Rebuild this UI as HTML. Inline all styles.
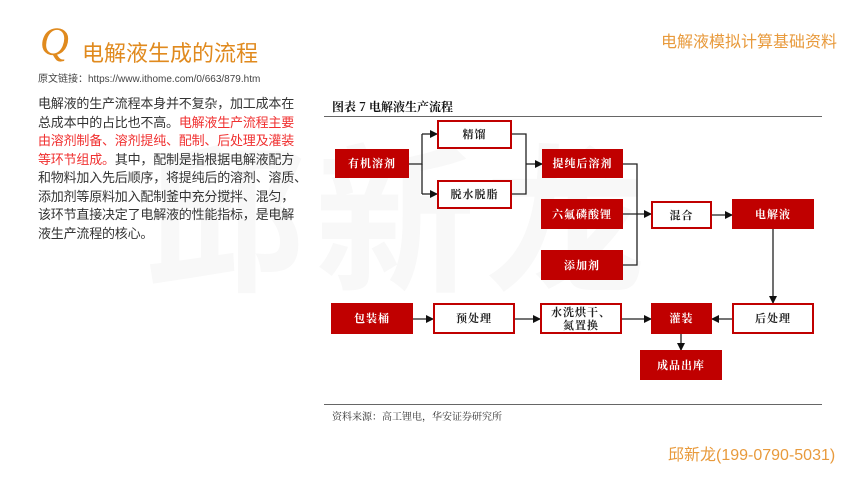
<!DOCTYPE html>
<html><head><meta charset="utf-8"><style>
body{margin:0;width:860px;height:484px;background:#fff;position:relative;overflow:hidden;font-family:"Liberation Sans","Noto Sans CJK SC",sans-serif}
.a{position:absolute}
.b{position:absolute;box-sizing:border-box;display:flex;align-items:center;justify-content:center;font-family:"Noto Serif CJK SC",serif;font-size:11px;font-weight:bold;letter-spacing:1px;line-height:13px;text-align:center}
.r{background:#c00000;color:#fff}
.w{background:#fff;border:2px solid #c00000;color:#222}
</style></head><body>
<div class="a" style="left:145px;top:120px;font-size:160px;color:#f8f8f8;font-weight:bold;letter-spacing:10px;line-height:180px;font-family:'Noto Sans CJK SC',sans-serif">邱新龙</div>
<div class="a" style="left:40px;top:18px;font-family:'Liberation Serif',serif;font-style:italic;font-size:40px;color:#e08a1e">Q</div>
<div class="a" style="left:82px;top:36px;font-size:22px;color:#e08a1e">电解液生成的流程</div>
<div class="a" style="left:38px;top:70px;font-size:10px;color:#444">原文链接：https://www.ithome.com/0/663/879.htm</div>
<div class="a" style="left:661px;top:28px;font-size:16px;color:#e89a3c;white-space:nowrap">电解液模拟计算基础资料</div>
<div class="a" style="left:38px;top:95px;font-size:13px;line-height:18.5px;color:#333;white-space:nowrap;letter-spacing:-0.2px">电解液的生产流程本身并不复杂，加工成本在<br>总成本中的占比也不高。<span style="color:#f03030">电解液生产流程主要<br>由溶剂制备、溶剂提纯、配制、后处理及灌装<br>等环节组成。</span>其中，配制是指根据电解液配方<br>和物料加入先后顺序，将提纯后的溶剂、溶质、<br>添加剂等原料加入配制釜中充分搅拌、混匀，<br>该环节直接决定了电解液的性能指标，是电解<br>液生产流程的核心。</div>
<div class="a" style="left:332px;top:98px;font-size:12px;font-weight:bold;font-family:'Noto Serif CJK SC',serif;color:#111">图表 7 电解液生产流程</div>
<div class="a" style="left:324px;top:116px;width:498px;height:1px;background:#666"></div>
<div class="a" style="left:324px;top:404px;width:498px;height:1px;background:#666"></div>
<div class="a" style="left:332px;top:408px;font-size:10px;font-family:'Noto Serif CJK SC',serif;color:#333">资料来源：高工锂电，华安证券研究所</div>
<div class="a" style="left:668px;top:441px;font-size:16px;color:#e89a3c">邱新龙(199-0790-5031)</div>
<svg class="a" style="left:0;top:0" width="860" height="484"><defs><marker id="m" markerWidth="8" markerHeight="8" refX="7" refY="4" orient="auto" markerUnits="userSpaceOnUse"><path d="M0,0L8,4L0,8z" fill="#111"/></marker></defs>
<g stroke="#222" stroke-width="1.3" fill="none">
<path d="M409 164H422V134"/><path d="M422 164V194"/><path d="M422 134H437" marker-end="url(#m)"/><path d="M422 194H437" marker-end="url(#m)"/>
<path d="M512 134H526V194H512"/><path d="M526 164H542" marker-end="url(#m)"/>
<path d="M623 164H637V265H623"/><path d="M623 214H651" marker-end="url(#m)"/>
<path d="M712 215H732" marker-end="url(#m)"/>
<path d="M773 229V303" marker-end="url(#m)"/>
<path d="M732 319H712" marker-end="url(#m)"/>
<path d="M681 334V350" marker-end="url(#m)"/>
<path d="M413 319H433" marker-end="url(#m)"/>
<path d="M515 319H540" marker-end="url(#m)"/>
<path d="M622 319H651" marker-end="url(#m)"/>
</g></svg>
<div class="b w" style="left:437px;top:120px;width:75px;height:29px">精馏</div>
<div class="b r" style="left:335px;top:149px;width:74px;height:29px">有机溶剂</div>
<div class="b w" style="left:437px;top:180px;width:75px;height:29px">脱水脱脂</div>
<div class="b r" style="left:542px;top:149px;width:81px;height:29px">提纯后溶剂</div>
<div class="b r" style="left:541px;top:199px;width:82px;height:30px">六氟磷酸锂</div>
<div class="b r" style="left:541px;top:250px;width:82px;height:30px">添加剂</div>
<div class="b w" style="left:651px;top:201px;width:61px;height:28px">混合</div>
<div class="b r" style="left:732px;top:199px;width:82px;height:30px">电解液</div>
<div class="b r" style="left:331px;top:303px;width:82px;height:31px">包装桶</div>
<div class="b w" style="left:433px;top:303px;width:82px;height:31px">预处理</div>
<div class="b w" style="left:540px;top:303px;width:82px;height:31px">水洗烘干、<br>氮置换</div>
<div class="b r" style="left:651px;top:303px;width:61px;height:31px">灌装</div>
<div class="b w" style="left:732px;top:303px;width:82px;height:31px">后处理</div>
<div class="b r" style="left:640px;top:350px;width:82px;height:30px">成品出库</div>
</body></html>
